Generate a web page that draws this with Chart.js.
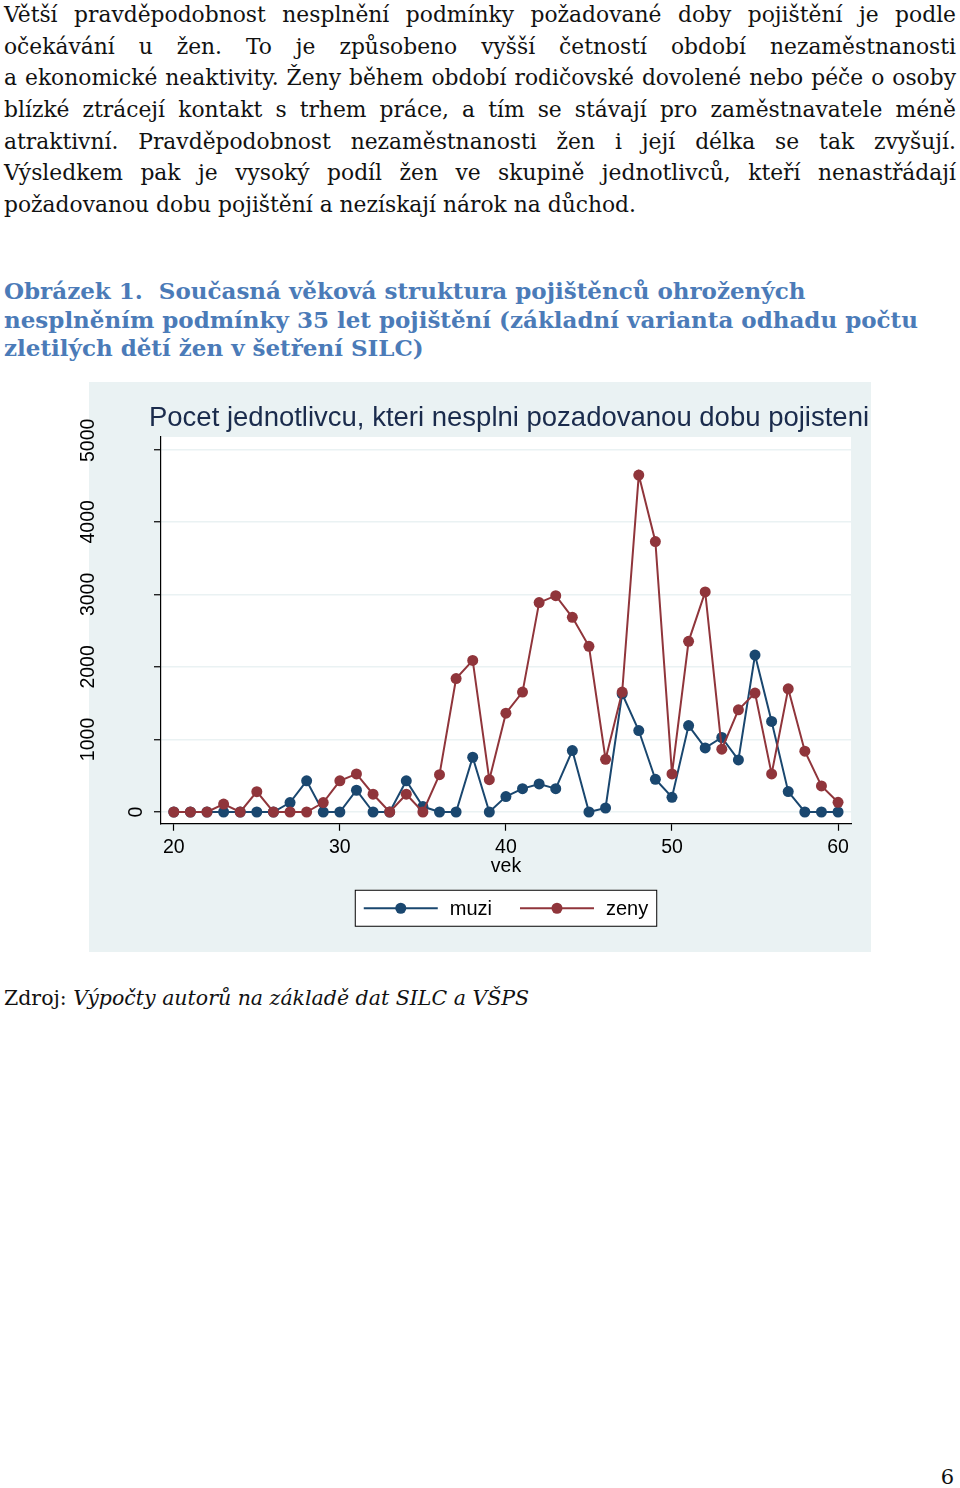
<!DOCTYPE html>
<html lang="cs">
<head>
<meta charset="utf-8">
<title>Obrázek 1</title>
<script src="https://cdn.jsdelivr.net/npm/chart.js@4.4.1/dist/chart.umd.min.js"></script>
<style>
html, body { margin: 0; padding: 0; background: #fff; }
body { width: 960px; height: 1488px; position: relative; overflow: hidden; font-family: "DejaVu Serif", serif; color: #111; }
.text { position: absolute; left: 4px; top: -1px; width: 952px; font-size: 21.8px; line-height: 31.67px; }
.text div { text-align: justify; text-align-last: justify; white-space: nowrap; }
.text div.last { text-align-last: left; }
.caption { position: absolute; left: 4px; top: 277px; font-weight: bold; color: #4b7bb8; font-size: 23px; line-height: 28.5px; white-space: nowrap; }
.graph { position: absolute; left: 88.5px; top: 382px; width: 782.5px; height: 570px; background: #eaf2f3; }
#chart { position: absolute; left: 60px; top: 382px; }
.source { position: absolute; left: 4px; top: 983px; font-size: 20.5px; line-height: 31.67px; white-space: nowrap; }
.source i { font-style: italic; }
.page { position: absolute; right: 6px; top: 1462px; font-size: 21px; line-height: 31.67px; }
</style>
</head>
<body>
<div class="text">
<div>Větší pravděpodobnost nesplnění podmínky požadované doby pojištění je podle</div>
<div>očekávání u žen. To je způsobeno vyšší četností období nezaměstnanosti</div>
<div>a ekonomické neaktivity. Ženy během období rodičovské dovolené nebo péče o osoby</div>
<div>blízké ztrácejí kontakt s&nbsp;trhem práce, a tím se stávají pro zaměstnavatele méně</div>
<div>atraktivní. Pravděpodobnost nezaměstnanosti žen i její délka se tak zvyšují.</div>
<div>Výsledkem pak je vysoký podíl žen ve skupině jednotlivců, kteří nenastřádají</div>
<div class="last">požadovanou dobu pojištění a nezískají nárok na důchod.</div>
</div>
<div class="caption">Obrázek 1.&nbsp; Současná věková struktura pojištěnců ohrožených<br>nesplněním podmínky 35 let pojištění (základní varianta odhadu počtu<br>zletilých dětí žen v šetření SILC)</div>
<div class="graph"></div>
<canvas id="chart" width="820" height="570"></canvas>
<div class="source">Zdroj: <i>Výpočty autorů na základě dat SILC a VŠPS</i></div>
<div class="page">6</div>
<script>
var ages = [20, 21, 22, 23, 24, 25, 26, 27, 28, 29, 30, 31, 32, 33, 34, 35, 36, 37, 38, 39, 40,
    41, 42, 43, 44, 45, 46, 47, 48, 49, 50, 51, 52, 53, 54, 55, 56, 57, 58, 59, 60];
var muzi = [0, 0, 0, 0, 0, 0, 0, 130, 430, 0, 0, 300, 0, 0, 430, 75, 0, 0, 755, 0, 212,
    322, 387, 322, 847, 0, 55, 1630, 1123, 451, 203, 1192, 884, 1027, 718, 2164, 1248, 281, 0, 0, 0];
var zeny = [0, 0, 0, 110, 0, 280, 0, 0, 0, 130, 430, 525, 245, 0, 245, 0, 515, 1840, 2090, 445, 1363,
    1653, 2887, 2983, 2684, 2284, 727, 1653, 4645, 3729, 525, 2353, 3034, 866, 1409, 1639, 525, 1699, 838, 359, 134];
var xTicks = [20, 30, 40, 50, 60];
var yTicks = [0, 1000, 2000, 3000, 4000, 5000];
var chartTitle = 'Pocet jednotlivcu, kteri nesplni pozadovanou dobu pojisteni';
var xTitle = 'vek';

var sans = '"Liberation Sans", Arial, sans-serif';
var navy = '#1a476f';
var maroon = '#90353b';

function points(values) {
    var data = [];
    for (var i = 0; i < ages.length; i++) {
        data.push({x: ages[i], y: values[i]});
    }
    return data;
}

// stata style: white plot region, title wider than the plot, rotated y labels, boxed legend
var stataBits = {
    id: 'stataBits',
    beforeDraw: function (chart) {
        var ca = chart.chartArea;
        chart.ctx.save();
        chart.ctx.fillStyle = '#fff';
        chart.ctx.fillRect(ca.left, ca.top, ca.right - ca.left, ca.bottom - ca.top);
        chart.ctx.restore();
    },
    afterDraw: function (chart) {
        var ctx = chart.ctx;
        var ys = chart.scales.y;
        var ca = chart.chartArea;
        ctx.save();

        ctx.font = '27.5px ' + sans;
        ctx.fillStyle = '#1a2b4c';
        ctx.textAlign = 'center';
        ctx.textBaseline = 'middle';
        ctx.fillText(chartTitle, (ca.left + ca.right) / 2 + 3, ca.top - 19);

        ctx.font = '19.5px ' + sans;
        ctx.fillStyle = '#000';
        for (const v of yTicks) {
            var label = String(v);
            var py = ys.getPixelForValue(v);
            var px = label.length > 1 ? ca.left - 72 : ca.left - 24;
            if (v === yTicks[yTicks.length - 1]) py -= 9;
            ctx.save();
            ctx.translate(px, py);
            ctx.rotate(-Math.PI / 2);
            ctx.fillText(label, 0, 0);
            ctx.restore();
        }

        // legend
        var ds = chart.data.datasets;
        ctx.font = '20px ' + sans;
        var pad = 9, sym = 74, gapText = 12, gapItem = 28, bh = 37;
        var total = pad * 2;
        var widths = ds.map(function (d) { return ctx.measureText(d.label).width; });
        widths.forEach(function (w, i) { total += sym + gapText + w + (i ? gapItem : 0); });
        var bx = (ca.left + ca.right) / 2 - total / 2;
        var by = ca.bottom + 66;
        ctx.fillStyle = '#fff';
        ctx.fillRect(bx, by, total, bh);
        ctx.strokeStyle = '#000';
        ctx.lineWidth = 1;
        ctx.strokeRect(bx + 0.5, by + 0.5, total - 1, bh - 1);
        var cx = bx + pad, cy = by + bh / 2;
        ds.forEach(function (d, i) {
            ctx.strokeStyle = d.borderColor;
            ctx.lineWidth = 2;
            ctx.beginPath();
            ctx.moveTo(cx, cy);
            ctx.lineTo(cx + sym, cy);
            ctx.stroke();
            ctx.fillStyle = d.borderColor;
            ctx.beginPath();
            ctx.arc(cx + sym / 2, cy, 5.5, 0, Math.PI * 2);
            ctx.fill();
            ctx.fillStyle = '#000';
            ctx.textAlign = 'left';
            ctx.fillText(d.label, cx + sym + gapText, cy + 1);
            cx += sym + gapText + widths[i] + gapItem;
        });
        ctx.restore();
    }
};

var ctx = document.getElementById('chart').getContext('2d');
var chart = new Chart(ctx, {
    type: 'line',
    data: {
        datasets: [{
            label: 'muzi',
            data: points(muzi),
            borderColor: navy,
            backgroundColor: navy,
            pointBackgroundColor: navy,
            borderWidth: 2,
            pointRadius: 5.5,
            pointBorderWidth: 0,
            order: 2
        }, {
            label: 'zeny',
            data: points(zeny),
            borderColor: maroon,
            backgroundColor: maroon,
            pointBackgroundColor: maroon,
            borderWidth: 2,
            pointRadius: 5.5,
            pointBorderWidth: 0,
            order: 1
        }]
    },
    options: {
        responsive: false,
        animation: false,
        events: [],
        layout: {padding: {left: 0, right: 29, top: 55, bottom: 76}},
        plugins: {
            legend: {display: false},
            tooltip: {enabled: false},
            title: {display: false}
        },
        scales: {
            x: {
                type: 'linear',
                min: 19.23,
                max: 60.78,
                afterBuildTicks: function (s) { s.ticks = xTicks.map(function (v) { return {value: v}; }); },
                grid: {drawOnChartArea: false, tickLength: 7, tickColor: '#000', tickWidth: 1.2},
                border: {color: '#000', width: 1.2},
                ticks: {color: '#000', padding: 7.25, maxRotation: 0, font: {family: sans, size: 19.5, lineHeight: 1}},
                title: {display: true, text: xTitle, color: '#000', padding: {top: -8.25, bottom: 0},
                    font: {family: sans, size: 19.5, lineHeight: 1}}
            },
            y: {
                min: -162,
                max: 5170,
                afterBuildTicks: function (s) { s.ticks = yTicks.map(function (v) { return {value: v}; }); },
                afterFit: function (s) { s.width = 101; },
                grid: {color: '#eaf2f3', lineWidth: 1.5, tickLength: 7, tickColor: '#000', tickWidth: 1.2},
                border: {color: '#000', width: 1.2},
                ticks: {display: false}
            }
        }
    },
    plugins: [stataBits]
});
</script>
</body>
</html>
